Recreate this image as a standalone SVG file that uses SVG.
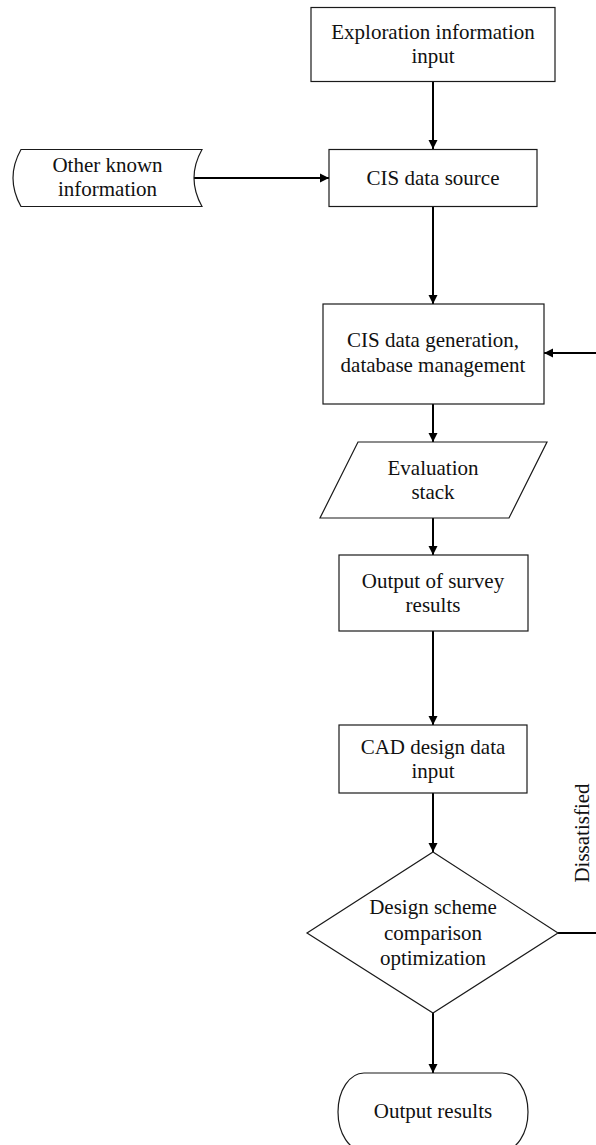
<svg xmlns="http://www.w3.org/2000/svg" width="596" height="1145" viewBox="0 0 596 1145">
<style>
.shape{fill:#fff;stroke:#1a1a1a;stroke-width:1.2}
.t{font-family:"Liberation Serif","Times New Roman",serif;font-size:21px;fill:#111;text-anchor:middle}
.c{fill:none;stroke:#000;stroke-width:2}
</style>
<defs>
<marker id="ah" viewBox="0 0 10 10" refX="10" refY="5" markerWidth="9" markerHeight="13" markerUnits="userSpaceOnUse" orient="auto">
<path d="M0,0 L10,5 L0,10 z" fill="#000"/>
</marker>
</defs>
<rect width="596" height="1145" fill="#fff"/>
<g id="connectors">
<line class="c" x1="433" y1="81" x2="433" y2="149" marker-end="url(#ah)"/>
<line class="c" x1="194" y1="178" x2="329" y2="178" marker-end="url(#ah)"/>
<line class="c" x1="433" y1="206" x2="433" y2="304" marker-end="url(#ah)"/>
<line class="c" x1="433" y1="404" x2="433" y2="442" marker-end="url(#ah)"/>
<line class="c" x1="433" y1="518" x2="433" y2="555" marker-end="url(#ah)"/>
<line class="c" x1="433" y1="631" x2="433" y2="725" marker-end="url(#ah)"/>
<line class="c" x1="433" y1="793" x2="433" y2="852" marker-end="url(#ah)"/>
<line class="c" x1="433" y1="1013" x2="433" y2="1073" marker-end="url(#ah)"/>
<polyline class="c" points="558,933 599,933 599,353 544,353" marker-end="url(#ah)"/>
<text class="t" transform="translate(589,833) rotate(-90)">Dissatisfied</text>
</g>
<g id="exploration">
<rect class="shape" x="311" y="7.5" width="244" height="74"/>
<text class="t" x="433" y="39">Exploration information</text>
<text class="t" x="433" y="63">input</text>
</g>
<g id="other-known">
<path class="shape" d="M21,149.5 L202,149.5 Q186,178 202,206.5 L21,206.5 Q5,178 21,149.5 z"/>
<text class="t" x="107.5" y="172">Other known</text>
<text class="t" x="107.5" y="196">information</text>
</g>
<g id="cis-source">
<rect class="shape" x="329" y="149.5" width="208" height="57"/>
<text class="t" x="433" y="185">CIS data source</text>
</g>
<g id="cis-generation">
<rect class="shape" x="323" y="304" width="221" height="100"/>
<text class="t" x="433" y="347">CIS data generation,</text>
<text class="t" x="433" y="372">database management</text>
</g>
<g id="evaluation">
<polygon class="shape" points="358,442 547,442 509,518 320,518"/>
<text class="t" x="433" y="475">Evaluation</text>
<text class="t" x="433" y="499">stack</text>
</g>
<g id="survey-output">
<rect class="shape" x="339" y="555" width="189" height="76"/>
<text class="t" x="433" y="588">Output of survey</text>
<text class="t" x="433" y="612">results</text>
</g>
<g id="cad-input">
<rect class="shape" x="339" y="725" width="188" height="68"/>
<text class="t" x="433" y="754">CAD design data</text>
<text class="t" x="433" y="778">input</text>
</g>
<g id="design-decision">
<polygon class="shape" points="433,852 558,933 433,1013 307,933"/>
<text class="t" x="433" y="914">Design scheme</text>
<text class="t" x="433" y="940">comparison</text>
<text class="t" x="433" y="965">optimization</text>
</g>
<g id="output-results">
<rect class="shape" x="338" y="1073" width="190" height="78" rx="26" ry="39"/>
<text class="t" x="433" y="1118">Output results</text>
</g>
</svg>
